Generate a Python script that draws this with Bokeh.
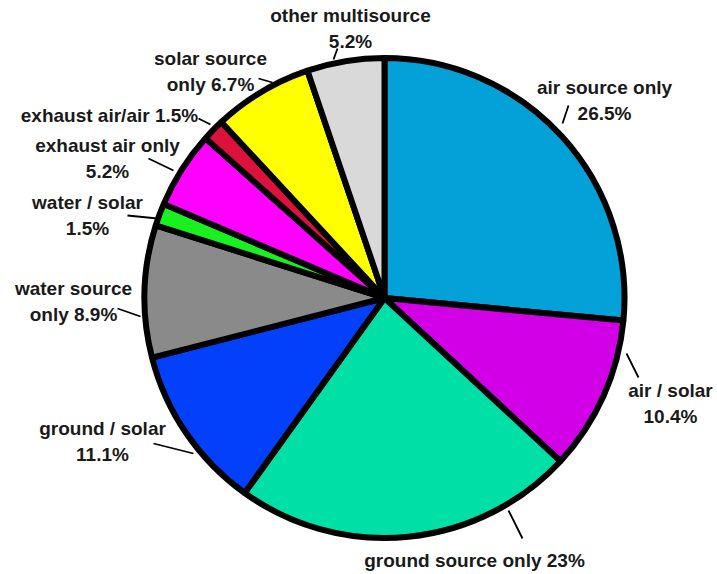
import math
from bokeh.plotting import figure
from bokeh.models import ColumnDataSource, Range1d
from bokeh.core.properties import value
from bokeh.embed import file_html
from bokeh.resources import INLINE

# Share of heat pump systems by source type (percent), clockwise from 12 o'clock
categories = [
    "air source only", "air / solar", "ground source only", "ground / solar",
    "water source only", "water / solar", "exhaust air only", "exhaust air/air",
    "solar source only", "other multisource",
]
shares = [26.5, 10.4, 23.0, 11.1, 8.9, 1.5, 5.2, 1.5, 6.7, 5.2]
colors = [
    "#04a0d8", "#d200e6", "#00dfa6", "#0340fb", "#8a8a8a",
    "#18f020", "#ff00ff", "#dc123c", "#ffff00", "#d9d9d9",
]
# How each label is broken into lines ({} is the share)
label_formats = [
    "air source only\n{}%", "air / solar\n{}%", "ground source only {}%",
    "ground / solar\n{}%", "water source\nonly {}%", "water / solar\n{}%",
    "exhaust air only\n{}%", "exhaust air/air {}%", "solar source\nonly {}%",
    "other multisource\n{}%",
]

W, H = 717, 574
CX, CY, R = 384, 297.5, 240


def fy(y):
    # page rows are counted downward, the plot's y runs upward
    return H - y


# label block centres and leader line ends, in page pixels
label_xy = [
    (604, 100), (670, 403), (474, 560), (102, 441), (73, 301),
    (87, 215), (107, 158), (109, 115), (210, 71), (350, 28),
]
leader_outer = [
    (568, 105), (638, 377), (522, 538), (153, 443), (117, 308),
    (127, 215), (148, 158), (198, 118), (258, 78), (337, 48),
]
leader_inner = [
    (562, 123), (626, 353), (508, 510), (193, 453), (140, 316),
    (157, 218), (173, 170), (210, 124), (272, 82), (333, 59),
]

total = sum(shares)
starts, ends = [], []
acc = 0.0
for s in shares:
    a0 = math.pi / 2 - 2 * math.pi * acc / total
    acc += s
    a1 = math.pi / 2 - 2 * math.pi * acc / total
    # anticlockwise from the later edge to the earlier one
    starts.append(a1)
    ends.append(a0)

wedges = ColumnDataSource(dict(
    cat=categories, share=shares, color=colors, start=starts, end=ends,
))

p = figure(
    width=W, height=H, x_range=Range1d(0, W), y_range=Range1d(0, H),
    toolbar_location=None, output_backend="svg", min_border=0,
)
p.axis.visible = False
p.grid.visible = False
p.outline_line_color = None
p.background_fill_color = "white"
p.border_fill_color = "white"

p.wedge(
    x=CX, y=fy(CY), radius=R, start_angle="start", end_angle="end",
    direction="anticlock", fill_color="color", line_color="black",
    line_width=6, source=wedges,
)

p.segment(
    x0=[a[0] for a in leader_inner], y0=[fy(a[1]) for a in leader_inner],
    x1=[b[0] for b in leader_outer], y1=[fy(b[1]) for b in leader_outer],
    line_color="black", line_width=1.8,
)

labels = ColumnDataSource(dict(
    x=[xy[0] for xy in label_xy],
    y=[fy(xy[1]) for xy in label_xy],
    text=[fmt.format(f"{v:g}") for fmt, v in zip(label_formats, shares)],
))
p.text(
    x="x", y="y", text="text", source=labels,
    text_font=value("Liberation Sans"), text_font_style="bold",
    text_font_size="19px", text_color="#1a1a1a",
    text_align="center", text_baseline="middle", text_line_height=1.25,
)

open("out.html", "w").write(file_html(p, INLINE))
